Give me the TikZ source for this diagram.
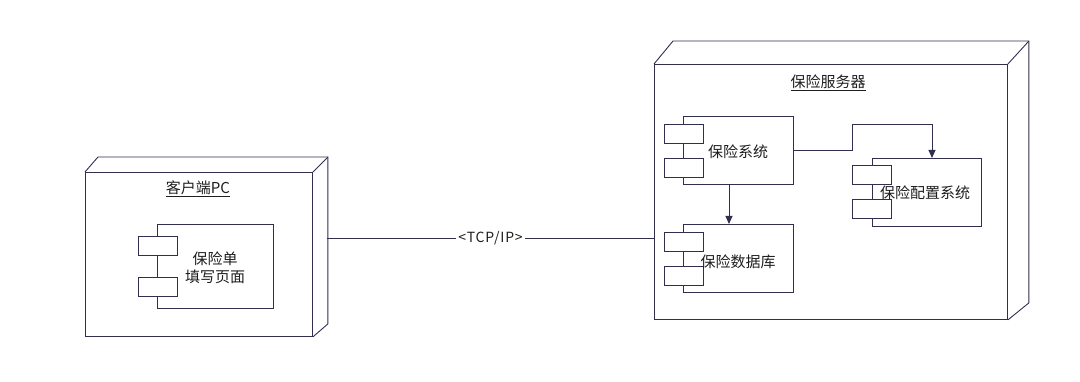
\documentclass[tikz,border=0pt]{standalone}
\usepackage{fontspec}
\setmainfont{Noto Sans CJK SC}
\usetikzlibrary{arrows.meta}
\definecolor{edge}{RGB}{48,48,78}
\definecolor{txt}{RGB}{30,30,30}
\begin{document}
\begin{tikzpicture}[x=1pt,y=-1pt,
  every node/.style={font=\fontsize{15}{17}\selectfont, text=txt},
  front/.style={draw=edge, line width=0.9pt, anchor=north west, inner sep=0pt},
  comp/.style={draw=edge, line width=0.9pt, fill=white, anchor=north west, inner sep=0pt},
  tab/.style={draw=edge, line width=0.9pt, fill=white, anchor=north west, inner sep=0pt, minimum width=39pt, minimum height=19pt},
  depth/.style={draw=edge, line width=0.9pt},
  conn/.style={draw=edge, line width=0.9pt},
  arr/.style={draw=edge, line width=0.9pt, -{Triangle[length=8pt,width=7pt]}},
  lbl/.style={inner sep=1pt}]
\useasboundingbox (0,0) rectangle (1080,382);
% client PC node
\node[front, minimum width=227pt, minimum height=164pt] (pc) at (85,172) {};
\draw[depth] (pc.north west) -- ++(13,-15) -- ([shift={(15,-15)}]pc.north east) -- ([shift={(15,-13)}]pc.south east) -- (pc.south east);
\draw[depth] (pc.north east) -- ++(15,-15);
\node[lbl] (pcl) at (198,189) {\underline{客户端PC}};
% component in PC
\node[comp, minimum width=116pt, minimum height=84pt] (form) at (157,224) {};
\node[tab] (formt1) at (138,236) {};
\node[tab] (formt2) at (138,277) {};
\node[lbl, align=center] (formtxt) at (215,268) {保险单\\[1pt]填写页面};
% server node
\node[front, minimum width=353pt, minimum height=255pt] (srv) at (654,64) {};
\draw[depth] (srv.north west) -- ++(19,-23) -- ([shift={(21,-23)}]srv.north east) -- ([shift={(21,-17)}]srv.south east) -- (srv.south east);
\draw[depth] (srv.north east) -- ++(21,-23);
\node[lbl] (srvl) at (828,83) {\underline{保险服务器}};
% insurance system
\node[comp, minimum width=110pt, minimum height=68pt] (sys) at (683,116) {};
\node[tab] (syst1) at (664,124) {};
\node[tab] (syst2) at (664,158) {};
\node[lbl] (systxt) at (738,152) {保险系统};
% database
\node[comp, minimum width=110pt, minimum height=68pt] (db) at (683,224) {};
\node[tab] (dbt1) at (664,232) {};
\node[tab] (dbt2) at (664,266) {};
\node[lbl] (dbtxt) at (738,262) {保险数据库};
% config system
\node[comp, minimum width=109pt, minimum height=68pt] (cfg) at (872,158) {};
\node[tab] (cfgt1) at (852,165) {};
\node[tab] (cfgt2) at (852,199) {};
\node[lbl] (cfgtxt) at (925,193) {保险配置系统};
% connectors
\draw[arr] (sys.south -| 729,0) -- (db.north -| 729,0);
\coordinate (bend1) at (852,150);
\coordinate (bend2) at (852,124);
\coordinate (bend3) at (932,124);
\draw[arr] (sys.east |- bend1) -- (bend1) -- (bend2) -- (bend3) -- (cfg.north -| bend3);
\coordinate (pcr) at (327,238);
\draw[conn] (pcr) -- node[fill=white, inner sep=2pt, font={\fontsize{14}{16}\selectfont\addfontfeatures{LetterSpace=6}}] (tcp) {<TCP/IP>} (srv.west |- pcr);
\end{tikzpicture}
\end{document}
